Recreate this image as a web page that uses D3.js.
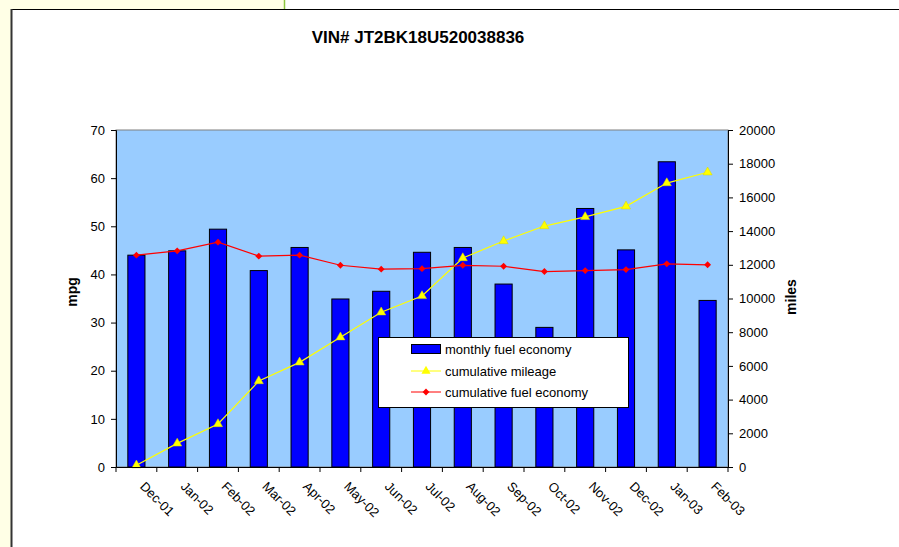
<!DOCTYPE html>
<html>
  <head>
    <meta charset="utf-8" />
    <script src="https://d3js.org/d3.v7.min.js"></script>
    <title>VIN# JT2BK18U520038836</title>
    <style>
      body {
        margin: 0px;
        font-family: 'Liberation Sans', Arial, sans-serif;
        background: #ffffff;
      }
      .tick text {
        fill: #000;
        font-size: 13px;
        font-family: 'Liberation Sans', Arial, sans-serif;
      }
      .axis-label {
        font-size: 14px;
        font-weight: bold;
      }
      .legend text {
        font-size: 13px;
      }
    </style>
  </head>
  <body>
    <script>
      const months = ['Dec-01', 'Jan-02', 'Feb-02', 'Mar-02', 'Apr-02', 'May-02', 'Jun-02',
        'Jul-02', 'Aug-02', 'Sep-02', 'Oct-02', 'Nov-02', 'Dec-02', 'Jan-03', 'Feb-03'];
      const monthlyMpg = [44.0, 44.9, 49.4, 40.8, 45.6, 34.9, 36.5,
        44.6, 45.6, 38.0, 29.0, 53.7, 45.1, 63.4, 34.6];
      const cumulativeMiles = [100, 1400, 2550, 5100, 6210, 7700, 9180,
        10150, 12400, 13410, 14300, 14840, 15470, 16850, 17490];
      const cumulativeMpg = [44.0, 44.9, 46.7, 43.8, 44.0, 41.9, 41.1,
        41.2, 41.9, 41.7, 40.6, 40.8, 41.0, 42.2, 42.0];
      const mpgTicks = [0, 10, 20, 30, 40, 50, 60, 70];
      const milesTicks = [0, 2000, 4000, 6000, 8000, 10000, 12000, 14000, 16000, 18000, 20000];

      const width = 899;
      const height = 547;
      const plot = { left: 116, right: 728, top: 130, bottom: 467 };

      const svg = d3.select('body').append('svg')
        .attr('width', width)
        .attr('height', height);

      // page surround: pale yellow strip, green divider, chart frame
      svg.append('rect').attr('x', 0).attr('y', 0).attr('width', 12).attr('height', height).attr('fill', '#ffffe6');
      svg.append('rect').attr('x', 0).attr('y', 0).attr('width', 284).attr('height', 9).attr('fill', '#ffffe6');
      svg.append('line').attr('x1', 284.5).attr('x2', 284.5).attr('y1', 0).attr('y2', 9).attr('stroke', '#8cc63f').attr('stroke-width', 1.5);
      svg.append('line').attr('x1', 11).attr('x2', width).attr('y1', 9.5).attr('y2', 9.5).attr('stroke', '#000');
      svg.append('line').attr('x1', 11.5).attr('x2', 11.5).attr('y1', 9).attr('y2', height).attr('stroke', '#333').attr('stroke-width', 2);

      svg.append('text')
        .attr('x', 418)
        .attr('y', 43)
        .attr('text-anchor', 'middle')
        .style('font-size', '17px')
        .style('font-weight', 'bold')
        .text('VIN# JT2BK18U520038836');

      const xScale = d3.scaleBand()
        .domain(months)
        .range([plot.left, plot.right]);
      const yLeft = d3.scaleLinear().domain([0, 70]).range([plot.bottom, plot.top]);
      const yRight = d3.scaleLinear().domain([0, 20000]).range([plot.bottom, plot.top]);

      svg.append('rect')
        .attr('x', plot.left)
        .attr('y', plot.top)
        .attr('width', plot.right - plot.left)
        .attr('height', plot.bottom - plot.top)
        .attr('fill', '#99ccff')
        .attr('stroke', '#808080');

      // bars
      const barW = xScale.bandwidth() * 0.42;
      svg.append('g').selectAll('rect')
        .data(months)
        .join('rect')
        .attr('x', (d) => xScale(d) + xScale.bandwidth() / 2 - barW / 2)
        .attr('y', (d, i) => yLeft(monthlyMpg[i]))
        .attr('width', barW)
        .attr('height', (d, i) => plot.bottom - yLeft(monthlyMpg[i]))
        .attr('fill', '#0000ff')
        .attr('stroke', '#000')
        .attr('stroke-width', 1);

      const cx = (d) => xScale(d) + xScale.bandwidth() / 2;

      // cumulative mileage (right axis)
      svg.append('path')
        .attr('fill', 'none')
        .attr('stroke', '#ffff00')
        .attr('stroke-width', 1.2)
        .attr('d', d3.line().x((d) => cx(d)).y((d, i) => yRight(cumulativeMiles[i]))(months));
      svg.append('g').selectAll('path')
        .data(months)
        .join('path')
        .attr('transform', (d, i) => `translate(${cx(d)},${yRight(cumulativeMiles[i])})`)
        .attr('d', d3.symbol().type(d3.symbolTriangle).size(36))
        .attr('fill', '#ffff00')
        .attr('stroke', '#d8d800')
        .attr('stroke-width', 0.5);

      // cumulative fuel economy (left axis)
      svg.append('path')
        .attr('fill', 'none')
        .attr('stroke', '#ff0000')
        .attr('stroke-width', 1.2)
        .attr('d', d3.line().x((d) => cx(d)).y((d, i) => yLeft(cumulativeMpg[i]))(months));
      svg.append('g').selectAll('path')
        .data(months)
        .join('path')
        .attr('transform', (d, i) => `translate(${cx(d)},${yLeft(cumulativeMpg[i])})`)
        .attr('d', d3.symbol().type(d3.symbolDiamond2).size(30))
        .attr('fill', '#ff0000');

      // axes
      const leftAxis = svg.append('g')
        .attr('transform', `translate(${plot.left},0)`)
        .call(d3.axisLeft(yLeft).tickValues(mpgTicks).tickSize(5).tickPadding(6));
      const rightAxis = svg.append('g')
        .attr('transform', `translate(${plot.right},0)`)
        .call(d3.axisRight(yRight).tickValues(milesTicks).tickFormat(d3.format('d')).tickSize(5).tickPadding(6));
      const bottomAxis = svg.append('g')
        .attr('transform', `translate(0,${plot.bottom})`)
        .call(d3.axisBottom(xScale).tickSize(0).tickPadding(0));
      [leftAxis, rightAxis].forEach((a) => {
        a.select('.domain').attr('stroke', '#000');
        a.selectAll('.tick line').attr('stroke', '#000');
      });
      bottomAxis.select('.domain').attr('stroke', '#000');
      bottomAxis.selectAll('.tick text')
        .attr('text-anchor', 'start')
        .attr('transform', 'translate(6,17) rotate(45)')
        .attr('y', 0)
        .attr('dy', '0.35em');
      // tick marks on the category boundaries
      svg.append('g').selectAll('line')
        .data(d3.range(months.length + 1))
        .join('line')
        .attr('x1', (i) => plot.left + i * xScale.step())
        .attr('x2', (i) => plot.left + i * xScale.step())
        .attr('y1', plot.bottom)
        .attr('y2', plot.bottom + 5)
        .attr('stroke', '#000');

      svg.append('text')
        .attr('class', 'axis-label')
        .attr('transform', `translate(77,292) rotate(-90)`)
        .attr('text-anchor', 'middle')
        .text('mpg');
      svg.append('text')
        .attr('class', 'axis-label')
        .attr('transform', `translate(796,297) rotate(-90)`)
        .attr('text-anchor', 'middle')
        .text('miles');

      // legend
      const legend = svg.append('g').attr('class', 'legend');
      legend.append('rect')
        .attr('x', 378.5).attr('y', 337.5).attr('width', 250).attr('height', 70)
        .attr('fill', '#fff').attr('stroke', '#000');
      const items = ['monthly fuel economy', 'cumulative mileage', 'cumulative fuel economy'];
      const rowY = [349, 371, 392];
      legend.append('rect')
        .attr('x', 411.5).attr('y', 344.5).attr('width', 29).attr('height', 9)
        .attr('fill', '#0000ff').attr('stroke', '#000');
      legend.append('line').attr('x1', 411).attr('x2', 441).attr('y1', rowY[1]).attr('y2', rowY[1]).attr('stroke', '#ffff00');
      legend.append('path').attr('transform', `translate(426,${rowY[1]})`)
        .attr('d', d3.symbol().type(d3.symbolTriangle).size(36)).attr('fill', '#ffff00');
      legend.append('line').attr('x1', 411).attr('x2', 441).attr('y1', rowY[2]).attr('y2', rowY[2]).attr('stroke', '#ff0000');
      legend.append('path').attr('transform', `translate(426,${rowY[2]})`)
        .attr('d', d3.symbol().type(d3.symbolDiamond2).size(30)).attr('fill', '#ff0000');
      legend.selectAll('text')
        .data(items)
        .join('text')
        .attr('x', 445)
        .attr('y', (d, i) => rowY[i])
        .attr('dy', '0.35em')
        .text((d) => d);
    </script>
  </body>
</html>
